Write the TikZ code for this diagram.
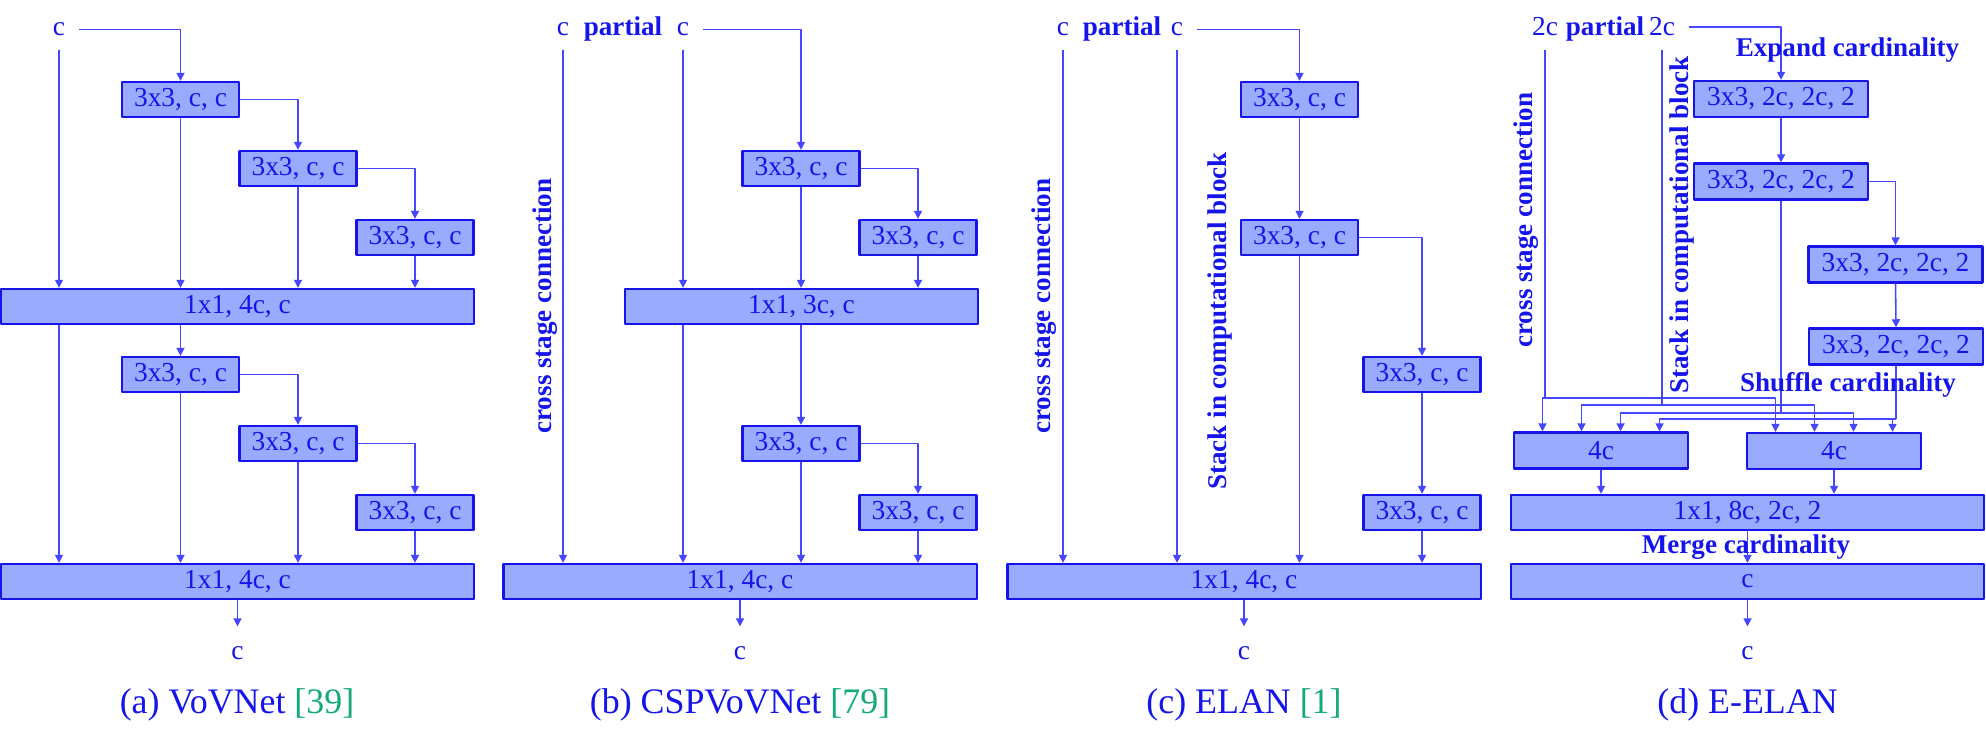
\documentclass[tikz,border=0pt]{standalone}
\usepackage{fontspec}
\setmainfont{Liberation Serif}
\usepackage{tikz}
\usetikzlibrary{arrows.meta,positioning,calc}

\definecolor{netblue}{RGB}{20,20,235}
\definecolor{linkblue}{RGB}{70,70,255}
\definecolor{boxfill}{RGB}{153,170,255}
\definecolor{citegreen}{RGB}{20,170,120}

\begin{document}
\begin{tikzpicture}[x=0.01cm,y=-0.01cm,>={Triangle[length=2.3pt,width=2.3pt]},line join=round,
    blk/.style={draw=netblue,fill=boxfill,line width=0.65pt,inner sep=0pt,minimum height=0.35cm,text=netblue,font=\fontsize{7.8}{9}\selectfont},
    blkc/.style={blk,minimum width=1.17cm},
    blke/.style={blk,minimum width=1.74cm,minimum height=0.36cm},
    wide/.style={blk,minimum width=4.73cm},
    lbl/.style={text=netblue,inner sep=0.13cm,anchor=base,font=\fontsize{7.8}{9}\selectfont},
    outlbl/.style={lbl,inner ysep=0.19cm},
    tag/.style={text=netblue,inner sep=0pt,font=\fontsize{7.7}{9}\selectfont\bfseries},
    capt/.style={text=netblue,anchor=base,font=\fontsize{10.2}{12}\selectfont},
    link/.style={draw=linkblue,line width=0.45pt},
    conn/.style={link,->}]
  \useasboundingbox (0,0) rectangle (1986,743);

  % (a) VoVNet
  \node[lbl] (inA) at (59,36) {c};
  \node[blkc] (a1) at (180.5,99.5) {3x3, c, c};
  \node[blkc] (a2) at (298,168.5) {3x3, c, c};
  \node[blkc] (a3) at (415,237.5) {3x3, c, c};
  \node[wide] (mA1) at (237.5,306.5) {1x1, 4c, c};
  \node[blkc] (a4) at (180.5,374.5) {3x3, c, c};
  \node[blkc] (a5) at (298,443.5) {3x3, c, c};
  \node[blkc] (a6) at (415,512.5) {3x3, c, c};
  \node[wide] (mA2) at (237.5,581.5) {1x1, 4c, c};
  \node[outlbl] (outA) at (237.5,659) {c};
  \node[capt] (capA) at (237,713) {(a) VoVNet \textcolor{citegreen}{[39]}};

  \draw[conn] (inA.east) -| (a1.north);
  \draw[conn] (a1.east) -| (a2.north);
  \draw[conn] (a2.east) -| (a3.north);
  \draw[conn] (inA.south) -- (inA.south |- mA1.north);
  \draw[conn] (a1.south) -- (a1.south |- mA1.north);
  \draw[conn] (a2.south) -- (a2.south |- mA1.north);
  \draw[conn] (a3.south) -- (a3.south |- mA1.north);
  \draw[conn] (inA.south |- mA1.south) -- (inA.south |- mA2.north);
  \draw[conn] (a4.north |- mA1.south) -- (a4.north);
  \draw[conn] (a4.east) -| (a5.north);
  \draw[conn] (a5.east) -| (a6.north);
  \draw[conn] (a4.south) -- (a4.south |- mA2.north);
  \draw[conn] (a5.south) -- (a5.south |- mA2.north);
  \draw[conn] (a6.south) -- (a6.south |- mA2.north);
  \draw[conn] (mA2.south) -- (outA.north);

  % (b) CSPVoVNet
  \node[lbl] (inB1) at (563,36) {c};
  \node[tag,anchor=base] (partB) at (623,36) {partial};
  \node[lbl] (inB2) at (683,36) {c};
  \node[tag,rotate=90] (crossB) at (545,306) {cross stage connection};
  \node[blkc] (b1) at (801,168.5) {3x3, c, c};
  \node[blkc] (b2) at (918,237.5) {3x3, c, c};
  \node[blk,minimum width=3.53cm] (mB1) at (801.5,306.5) {1x1, 3c, c};
  \node[blkc] (b3) at (801,443.5) {3x3, c, c};
  \node[blkc] (b4) at (918,512.5) {3x3, c, c};
  \node[wide] (mB2) at (740,581.5) {1x1, 4c, c};
  \node[outlbl] (outB) at (740,659) {c};
  \node[capt] (capB) at (740,713) {(b) CSPVoVNet \textcolor{citegreen}{[79]}};

  \draw[conn] (inB2.east) -| (b1.north);
  \draw[conn] (b1.east) -| (b2.north);
  \draw[conn] (inB2.south) -- (inB2.south |- mB1.north);
  \draw[conn] (b1.south) -- (b1.south |- mB1.north);
  \draw[conn] (b2.south) -- (b2.south |- mB1.north);
  \draw[conn] (inB1.south) -- (inB1.south |- mB2.north);
  \draw[conn] (inB2.south |- mB1.south) -- (inB2.south |- mB2.north);
  \draw[conn] (b3.north |- mB1.south) -- (b3.north);
  \draw[conn] (b3.east) -| (b4.north);
  \draw[conn] (b3.south) -- (b3.south |- mB2.north);
  \draw[conn] (b4.south) -- (b4.south |- mB2.north);
  \draw[conn] (mB2.south) -- (outB.north);

  % (c) ELAN
  \node[lbl] (inC1) at (1063,36) {c};
  \node[tag,anchor=base] (partC) at (1122,36) {partial};
  \node[lbl] (inC2) at (1177,36) {c};
  \node[tag,rotate=90] (crossC) at (1044,306) {cross stage connection};
  \node[tag,rotate=90] (stackC) at (1220,321) {Stack in computational block};
  \node[blkc] (c1) at (1299.5,99.5) {3x3, c, c};
  \node[blkc] (c2) at (1299.5,237.5) {3x3, c, c};
  \node[blkc] (c3) at (1422,374.5) {3x3, c, c};
  \node[blkc] (c4) at (1422,512.5) {3x3, c, c};
  \node[wide] (mC) at (1244,581.5) {1x1, 4c, c};
  \node[outlbl] (outC) at (1244,659) {c};
  \node[capt] (capC) at (1244,713) {(c) ELAN \textcolor{citegreen}{[1]}};

  \draw[conn] (inC2.east) -| (c1.north);
  \draw[conn] (c1.south) -- (c2.north);
  \draw[conn] (c2.east) -| (c3.north);
  \draw[conn] (c3.south) -- (c4.north);
  \draw[conn] (inC1.south) -- (inC1.south |- mC.north);
  \draw[conn] (inC2.south) -- (inC2.south |- mC.north);
  \draw[conn] (c2.south) -- (c2.south |- mC.north);
  \draw[conn] (c4.south) -- (c4.south |- mC.north);
  \draw[conn] (mC.south) -- (outC.north);

  % (d) E-ELAN
  \node[lbl] (inD1) at (1545,36) {2c};
  \node[tag,anchor=base] (partD) at (1605,36) {partial};
  \node[lbl] (inD2) at (1662,36) {2c};
  \node[tag,rotate=90] (crossD) at (1526,220) {cross stage connection};
  \node[tag,rotate=90] (stackD) at (1682,225) {Stack in computational block};
  \node[blke] (d1) at (1781,99) {3x3, 2c, 2c, 2};
  \node[blke] (d2) at (1781,181.5) {3x3, 2c, 2c, 2};
  \node[blke] (d3) at (1895.5,264.5) {3x3, 2c, 2c, 2};
  \node[blke] (d4) at (1896,346.5) {3x3, 2c, 2c, 2};
  \node[blke] (f1) at (1601,450.5) {4c};
  \node[blke] (f2) at (1834,451) {4c};
  \node[wide] (mD1) at (1747.5,512.5) {1x1, 8c, 2c, 2};
  \node[wide] (mD2) at (1747.5,581.5) {c};
  \node[outlbl] (outD) at (1747.5,659) {c};
  \node[capt] (capD) at (1747.5,713) {(d) E-ELAN};

  \draw[conn] (inD2.east) -| (d1.north);
  \draw[conn] (d1.south) -- (d2.north);
  \draw[conn] (d2.east) -| (d3.north);
  \draw[conn] (d3.south) -- (d4.north);

  % shuffle rows
  \coordinate (row1) at (0,398);
  \coordinate (row2) at (0,405);
  \coordinate (row3) at (0,413);
  \coordinate (row4) at (0,419);
  \draw[link] (inD1.south) -- (inD1.south |- row1);
  \draw[conn] (inD1.south |- row1) -| ([xshift=-0.585cm]f1.north);
  \draw[conn] (inD1.south |- row1) -| ([xshift=-0.585cm]f2.north);
  \draw[link] (inD2.south) -- (inD2.south |- row2);
  \draw[conn] (inD2.south |- row2) -| ([xshift=-0.195cm]f1.north);
  \draw[conn] (inD2.south |- row2) -| ([xshift=-0.195cm]f2.north);
  \draw[link] (d2.south) -- (d2.south |- row3);
  \draw[conn] (d2.south |- row3) -| ([xshift=0.195cm]f1.north);
  \draw[conn] (d2.south |- row3) -| ([xshift=0.195cm]f2.north);
  \draw[link] (d4.south) -- (d4.south |- row4);
  \draw[conn] (d4.south |- row4) -| ([xshift=0.585cm]f1.north);
  \draw[conn] (d4.south |- row4) -| ([xshift=0.585cm]f2.north);

  \draw[conn] (f1.south) -- (f1.south |- mD1.north);
  \draw[conn] (f2.south) -- (f2.south |- mD1.north);
  \draw[conn] (mD1.south) -- (mD2.north);
  \draw[conn] (mD2.south) -- (outD.north);

  \node[tag,anchor=base] (expD) at (1847.5,57) {Expand cardinality};
  \node[tag,anchor=base] (shufD) at (1848,391) {Shuffle cardinality};
  \node[tag,anchor=base] (mergeD) at (1746,553) {Merge cardinality};
\end{tikzpicture}
\end{document}
